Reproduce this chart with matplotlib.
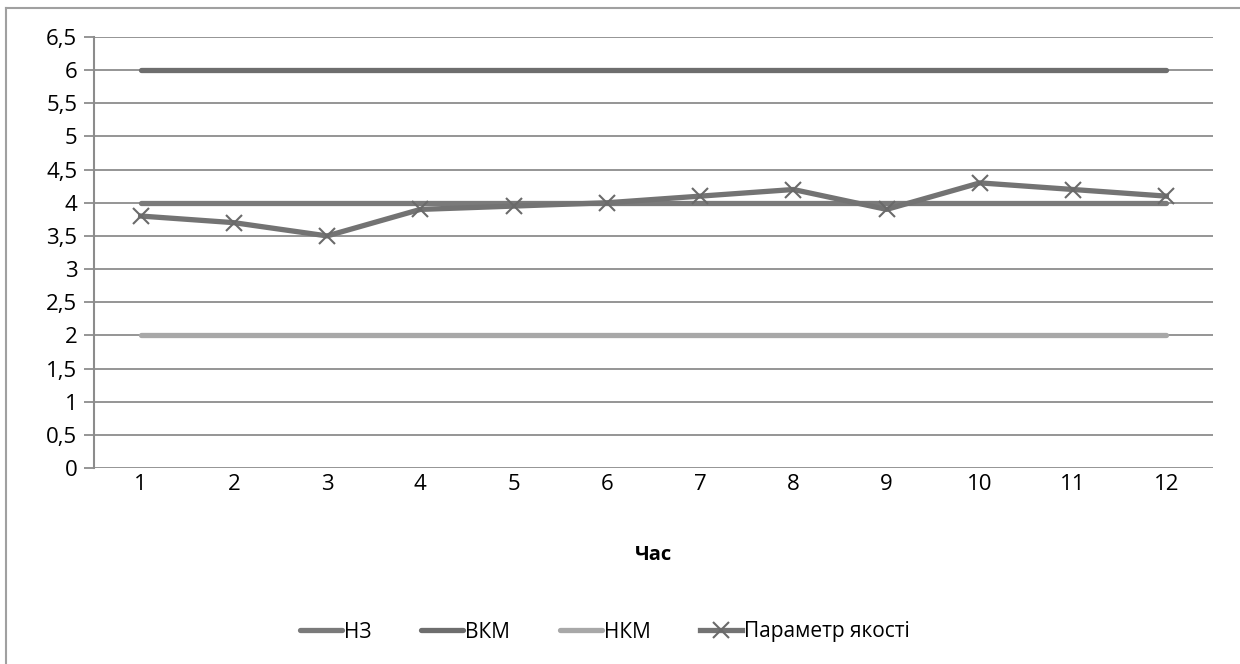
import matplotlib
matplotlib.use("Agg")
import matplotlib.pyplot as plt
from matplotlib.lines import Line2D
from matplotlib.ticker import FuncFormatter

plt.rcParams['font.family'] = ['Open Sans', 'DejaVu Sans']

# data
hours = list(range(1, 13))
nz = [4] * 12
vkm = [6] * 12
nkm = [2] * 12
quality = [3.8, 3.7, 3.5, 3.9, 3.95, 4.0, 4.1, 4.2, 3.9, 4.3, 4.2, 4.1]

fig = plt.figure(figsize=(12.4, 6.64), dpi=100)
ax = fig.add_axes([94 / 1240, 1 - 468 / 664, (1213 - 94) / 1240, (468 - 37) / 664])

# outer chart frame (only left and top visible)
fig.add_artist(Line2D([6 / 1240, 6 / 1240], [0, 1 - 8 / 664], transform=fig.transFigure,
                      color='#a0a0a0', lw=1.5))
fig.add_artist(Line2D([6 / 1240, 1], [1 - 8 / 664, 1 - 8 / 664], transform=fig.transFigure,
                      color='#a0a0a0', lw=1.5))

ax.plot(hours, nz, color='#7a7a7a', lw=3.8, solid_capstyle='round', label='НЗ', zorder=3)
ax.plot(hours, vkm, color='#6e6e6e', lw=3.8, solid_capstyle='round', label='ВКМ', zorder=3)
ax.plot(hours, nkm, color='#a8a8a8', lw=3.8, solid_capstyle='round', label='НКМ', zorder=3)
ax.plot(hours, quality, color='#737373', lw=3.8, marker='x', ms=12, mew=1.5,
        mec='#6a6a6a', label='Параметр якості', zorder=4)

ax.set_xlim(0.5, 12.5)
ax.set_ylim(0, 6.5)
ax.set_xticks(hours)
ax.set_yticks([i * 0.5 for i in range(14)])
ax.yaxis.set_major_formatter(FuncFormatter(lambda v, p: ('%g' % v).replace('.', ',')))
ax.tick_params(axis='x', length=0, labelsize=16, pad=4)
ax.tick_params(axis='y', length=7, width=1.3, color='#8c8c8c', labelsize=16, pad=5)
ax.grid(axis='y', color='#8c8c8c', lw=1.3)
ax.set_axisbelow(True)
for s in ['top', 'right', 'bottom']:
    ax.spines[s].set_visible(False)
ax.spines['left'].set_color('#8c8c8c')
ax.spines['left'].set_linewidth(1.5)

ax.set_xlabel('Час', fontsize=14.5, fontweight='bold', labelpad=36)

leg = fig.legend(loc='center', bbox_to_anchor=(605 / 1240, 1 - 632 / 664), ncol=4,
                 frameon=False, fontsize=15, handlelength=2.0, handletextpad=0.1,
                 columnspacing=2.4)

fig.savefig('out.png', dpi=100)
